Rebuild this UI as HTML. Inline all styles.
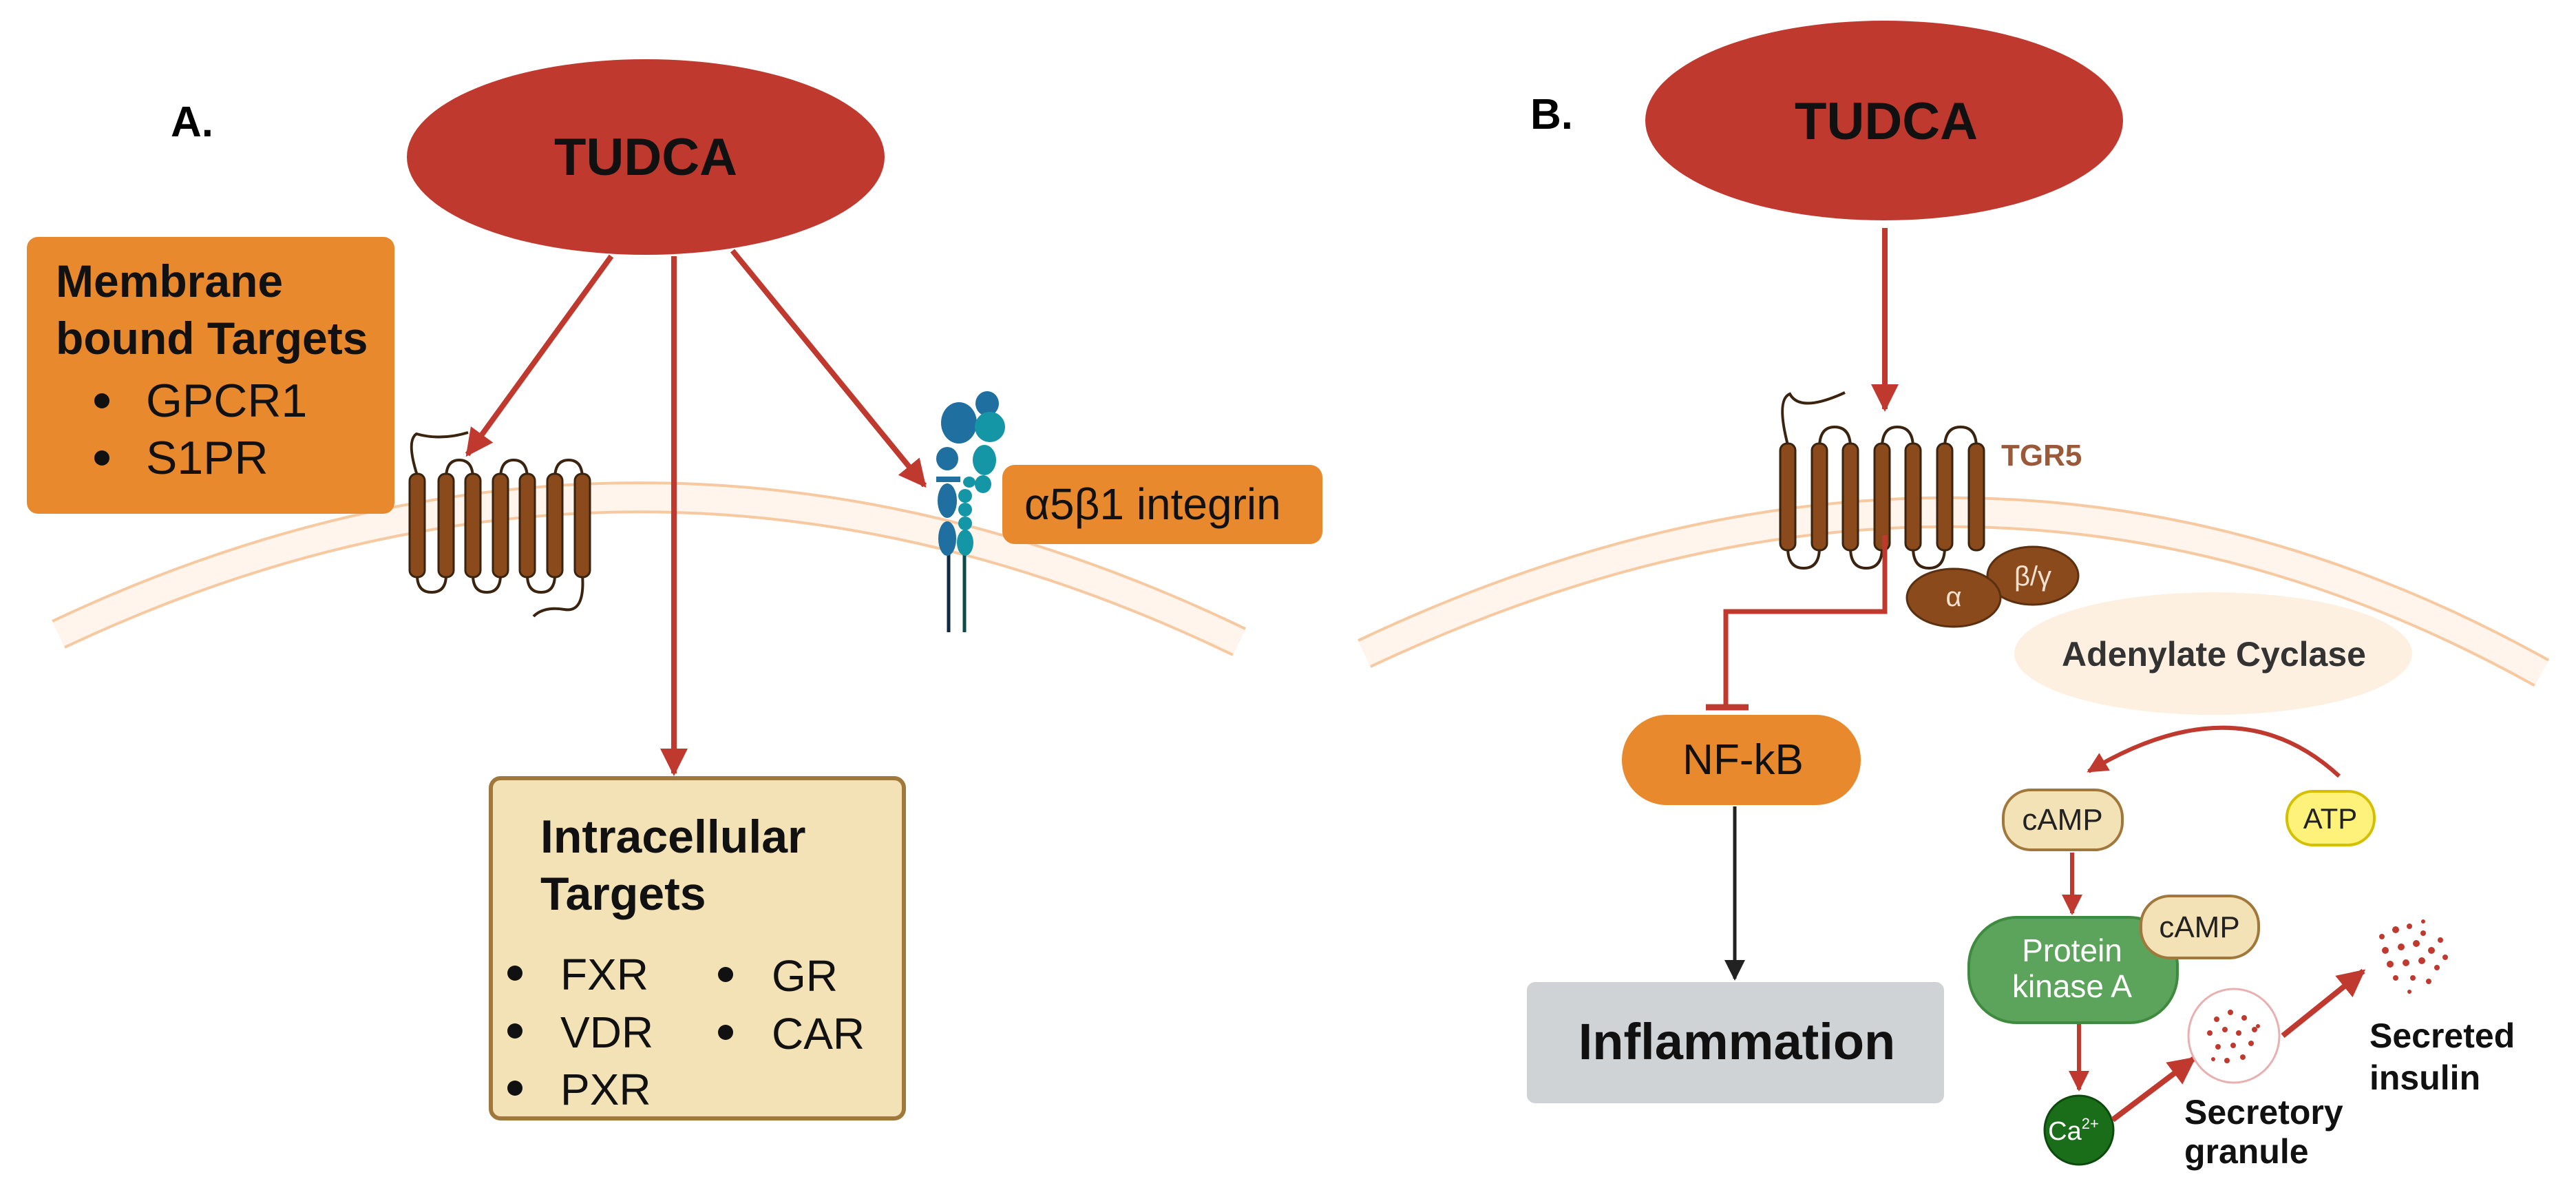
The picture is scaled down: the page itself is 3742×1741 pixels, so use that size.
<!DOCTYPE html>
<html><head><meta charset="utf-8"><style>
html,body{margin:0;padding:0;background:#fff;}
svg{display:block;}
text{font-family:"Liberation Sans",sans-serif;}
</style></head><body>
<svg width="3742" height="1741" viewBox="0 0 3742 1741" xmlns="http://www.w3.org/2000/svg">
<defs>
<marker id="ar" viewBox="0 0 10 10" refX="9" refY="5" markerWidth="5" markerHeight="5" orient="auto" markerUnits="strokeWidth"><path d="M0,0 L10,5 L0,10 z" fill="#c0392f"/></marker>
<marker id="ab" viewBox="0 0 10 10" refX="9" refY="5" markerWidth="6" markerHeight="6" orient="auto" markerUnits="strokeWidth"><path d="M0,0 L10,5 L0,10 z" fill="#222"/></marker>
</defs>

<!-- membranes -->
<path d="M85,921 Q940,518 1800,932" fill="none" stroke="#f6c9a0" stroke-width="46"/>
<path d="M85,921 Q940,518 1800,932" fill="none" stroke="#fff5ec" stroke-width="38"/>
<path d="M1982,949 Q2880,525 3692,977" fill="none" stroke="#f6c9a0" stroke-width="46"/>
<path d="M1982,949 Q2880,525 3692,977" fill="none" stroke="#fff5ec" stroke-width="38"/>

<!-- Panel A -->
<text x="248" y="198" font-size="62" font-weight="bold">A.</text>
<ellipse cx="938" cy="228" rx="347" ry="142" fill="#c0392f"/>
<text x="938" y="254" font-size="76" font-weight="bold" text-anchor="middle" fill="#111">TUDCA</text>

<rect x="39" y="344" width="534" height="402" rx="16" fill="#e8892e"/>
<text x="81" y="431" font-size="66" font-weight="bold" fill="#111">Membrane</text>
<text x="81" y="514" font-size="66" font-weight="bold" fill="#111">bound Targets</text>
<circle cx="148" cy="582" r="11" fill="#111"/><text x="212" y="605" font-size="68" fill="#111">GPCR1</text>
<circle cx="148" cy="665" r="11" fill="#111"/><text x="212" y="688" font-size="68" fill="#111">S1PR</text>

<!-- receptor A -->
<g stroke="#3a2410" stroke-width="4" fill="none">
<path d="M606,690 Q590,640 605,630 Q640,640 680,628"/>
<path d="M648,695 Q648,668 667,668 Q687,668 687,695"/>
<path d="M727,695 Q727,668 746,668 Q766,668 766,695"/>
<path d="M806,695 Q806,668 826,668 Q846,668 846,695"/>
<path d="M606,835 Q606,860 627,860 Q648,860 648,835"/>
<path d="M687,835 Q687,860 707,860 Q727,860 727,835"/>
<path d="M766,835 Q766,860 786,860 Q806,860 806,835"/>
<path d="M846,835 Q850,890 820,885 Q790,880 775,895"/>
</g>
<g fill="#8b4a1c" stroke="#3a2410" stroke-width="3">
<rect x="595" y="688" width="22" height="150" rx="10"/>
<rect x="637" y="688" width="22" height="150" rx="10"/>
<rect x="676" y="688" width="22" height="150" rx="10"/>
<rect x="716" y="688" width="22" height="150" rx="10"/>
<rect x="755" y="688" width="22" height="150" rx="10"/>
<rect x="795" y="688" width="22" height="150" rx="10"/>
<rect x="835" y="688" width="22" height="150" rx="10"/>
</g>

<!-- integrin -->
<g>
<line x1="1378" y1="800" x2="1378" y2="918" stroke="#0d2a44" stroke-width="5"/>
<line x1="1401" y1="800" x2="1401" y2="918" stroke="#0d4a4a" stroke-width="5"/>
<g fill="#1f6fa0">
<ellipse cx="1434" cy="586" rx="17" ry="18"/>
<ellipse cx="1393" cy="614" rx="26" ry="30"/>
<ellipse cx="1376" cy="666" rx="16" ry="17"/>
<rect x="1360" y="692" width="35" height="8"/>
<ellipse cx="1376" cy="727" rx="14" ry="25"/>
<ellipse cx="1376" cy="782" rx="13" ry="25"/>
</g>
<g fill="#1496a6">
<ellipse cx="1438" cy="620" rx="22" ry="22"/>
<ellipse cx="1430" cy="668" rx="17" ry="22"/>
<ellipse cx="1428" cy="703" rx="12" ry="13"/>
<ellipse cx="1408" cy="700" rx="9" ry="8"/>
<ellipse cx="1402" cy="720" rx="10" ry="10"/>
<ellipse cx="1402" cy="740" rx="10" ry="10"/>
<ellipse cx="1402" cy="760" rx="10" ry="10"/>
<ellipse cx="1402" cy="788" rx="12" ry="19"/>
</g>
</g>
<rect x="1456" y="675" width="465" height="115" rx="18" fill="#e8892e"/>
<text x="1488" y="754" font-size="64" fill="#111">α5β1 integrin</text>

<!-- arrows A -->
<g stroke="#c0392f" stroke-width="8" fill="none">
<line x1="888" y1="372" x2="679" y2="660" marker-end="url(#ar)"/>
<line x1="979" y1="372" x2="979" y2="1123" marker-end="url(#ar)"/>
<line x1="1064" y1="364" x2="1343" y2="705" marker-end="url(#ar)"/>
</g>

<rect x="713" y="1130" width="600" height="494" rx="14" fill="#f3e2b6" stroke="#a0783c" stroke-width="6"/>
<text x="785" y="1238" font-size="68" font-weight="bold" fill="#111">Intracellular</text>
<text x="785" y="1321" font-size="68" font-weight="bold" fill="#111">Targets</text>
<g font-size="64" fill="#111">
<circle cx="748" cy="1413" r="11"/><text x="814" y="1437">FXR</text>
<circle cx="748" cy="1497" r="11"/><text x="814" y="1521">VDR</text>
<circle cx="748" cy="1580" r="11"/><text x="814" y="1604">PXR</text>
<circle cx="1054" cy="1415" r="11"/><text x="1121" y="1439">GR</text>
<circle cx="1054" cy="1499" r="11"/><text x="1121" y="1523">CAR</text>
</g>

<!-- Panel B -->
<text x="2223" y="187" font-size="62" font-weight="bold">B.</text>
<ellipse cx="2737" cy="175" rx="347" ry="145" fill="#c0392f"/>
<text x="2740" y="202" font-size="76" font-weight="bold" text-anchor="middle" fill="#111">TUDCA</text>
<line x1="2738" y1="331" x2="2738" y2="594" stroke="#c0392f" stroke-width="8" marker-end="url(#ar)"/>

<!-- TGR5 receptor -->
<g stroke="#3a2410" stroke-width="4" fill="none">
<path d="M2597,646 Q2580,580 2600,572 Q2615,600 2680,570"/>
<path d="M2643,650 Q2643,620 2665,620 Q2688,620 2688,650"/>
<path d="M2734,650 Q2734,620 2756,620 Q2779,620 2779,650"/>
<path d="M2825,650 Q2825,620 2848,620 Q2871,620 2871,650"/>
<path d="M2597,795 Q2597,825 2620,825 Q2643,825 2643,795"/>
<path d="M2688,795 Q2688,825 2711,825 Q2734,825 2734,795"/>
<path d="M2779,795 Q2779,825 2802,825 Q2825,825 2825,795"/>
</g>
<g fill="#8b4a1c" stroke="#3a2410" stroke-width="3">
<rect x="2586" y="644" width="22" height="155" rx="10"/>
<rect x="2632" y="644" width="22" height="155" rx="10"/>
<rect x="2677" y="644" width="22" height="155" rx="10"/>
<rect x="2723" y="644" width="22" height="155" rx="10"/>
<rect x="2768" y="644" width="22" height="155" rx="10"/>
<rect x="2814" y="644" width="22" height="155" rx="10"/>
<rect x="2860" y="644" width="22" height="155" rx="10"/>
</g>
<text x="2907" y="676" font-size="44" font-weight="bold" fill="#9a5a3a">TGR5</text>
<ellipse cx="2953" cy="836" rx="66" ry="42" fill="#8b4a1c" stroke="#5a3010" stroke-width="3"/>
<text x="2953" y="850" font-size="40" fill="#f3e2d0" text-anchor="middle">β/γ</text>
<ellipse cx="2838" cy="868" rx="68" ry="42" fill="#8b4a1c" stroke="#5a3010" stroke-width="3"/>
<text x="2838" y="880" font-size="40" fill="#f3e2d0" text-anchor="middle">α</text>

<ellipse cx="3215" cy="949" rx="289" ry="89" fill="#fdf0e0"/>
<text x="3216" y="967" font-size="50" font-weight="bold" fill="#333" text-anchor="middle">Adenylate Cyclase</text>

<!-- inhibition -->
<path d="M2738,777 L2738,888 L2507,888 L2507,1027" fill="none" stroke="#c0392f" stroke-width="7"/>
<line x1="2478" y1="1027" x2="2540" y2="1027" stroke="#c0392f" stroke-width="9"/>
<rect x="2356" y="1038" width="347" height="131" rx="65" fill="#e8892e"/>
<text x="2532" y="1124" font-size="62" fill="#111" text-anchor="middle">NF-kB</text>
<line x1="2520" y1="1171" x2="2520" y2="1421" stroke="#222" stroke-width="5" marker-end="url(#ab)"/>
<rect x="2218" y="1426" width="606" height="176" rx="12" fill="#d0d3d6"/>
<text x="2523" y="1538" font-size="74" font-weight="bold" fill="#111" text-anchor="middle">Inflammation</text>

<!-- cAMP pathway -->
<path d="M3398,1127 Q3250,990 3034,1120" fill="none" stroke="#c0392f" stroke-width="6" marker-end="url(#ar)"/>
<rect x="2910" y="1147" width="173" height="87" rx="40" fill="#f3e2b6" stroke="#a0783c" stroke-width="4"/>
<text x="2996" y="1205" font-size="44" fill="#222" text-anchor="middle">cAMP</text>
<rect x="3322" y="1149" width="127" height="78" rx="38" fill="#fff27a" stroke="#d4c000" stroke-width="4"/>
<text x="3385" y="1203" font-size="42" fill="#222" text-anchor="middle">ATP</text>
<line x1="3010" y1="1238" x2="3010" y2="1326" stroke="#c0392f" stroke-width="6" marker-end="url(#ar)"/>
<rect x="2860" y="1332" width="303" height="153" rx="70" fill="#5ca35c" stroke="#3e8a3e" stroke-width="4"/>
<text x="3010" y="1396" font-size="46" fill="#fff" text-anchor="middle">Protein</text>
<text x="3010" y="1448" font-size="46" fill="#fff" text-anchor="middle">kinase A</text>
<rect x="3110" y="1301" width="171" height="90" rx="42" fill="#f3e2b6" stroke="#a0783c" stroke-width="4"/>
<text x="3195" y="1361" font-size="44" fill="#222" text-anchor="middle">cAMP</text>
<line x1="3020" y1="1487" x2="3020" y2="1582" stroke="#c0392f" stroke-width="6" marker-end="url(#ar)"/>
<circle cx="3020" cy="1641" r="50" fill="#1a6e1a" stroke="#0d4a0d" stroke-width="3"/>
<text x="3012" y="1655" font-size="38" fill="#fff" text-anchor="middle">Ca<tspan font-size="22" dy="-16">2+</tspan></text>
<line x1="3069" y1="1626" x2="3187" y2="1537" stroke="#c0392f" stroke-width="8" marker-end="url(#ar)"/>
<ellipse cx="3245" cy="1504" rx="66" ry="68" fill="#fff" stroke="#e8b0b0" stroke-width="3"/>
<g fill="#c0392f">
<circle cx="3220" cy="1480" r="4"/><circle cx="3240" cy="1470" r="4"/><circle cx="3260" cy="1478" r="4"/><circle cx="3275" cy="1495" r="4"/>
<circle cx="3210" cy="1500" r="4"/><circle cx="3232" cy="1495" r="4"/><circle cx="3252" cy="1500" r="4"/><circle cx="3270" cy="1515" r="4"/>
<circle cx="3222" cy="1520" r="4"/><circle cx="3244" cy="1518" r="4"/><circle cx="3258" cy="1535" r="4"/><circle cx="3235" cy="1540" r="4"/>
<circle cx="3215" cy="1538" r="3"/><circle cx="3280" cy="1490" r="3"/>
</g>
<line x1="3316" y1="1504" x2="3433" y2="1410" stroke="#c0392f" stroke-width="8" marker-end="url(#ar)"/>
<g fill="#c0392f">
<circle cx="3460" cy="1360" r="4"/><circle cx="3480" cy="1350" r="5"/><circle cx="3500" cy="1345" r="4"/><circle cx="3520" cy="1355" r="4"/><circle cx="3545" cy="1365" r="4"/>
<circle cx="3465" cy="1380" r="5"/><circle cx="3488" cy="1375" r="5"/><circle cx="3510" cy="1370" r="5"/><circle cx="3532" cy="1380" r="5"/><circle cx="3552" cy="1390" r="4"/>
<circle cx="3472" cy="1400" r="5"/><circle cx="3495" cy="1398" r="5"/><circle cx="3518" cy="1395" r="5"/><circle cx="3540" cy="1405" r="4"/>
<circle cx="3480" cy="1420" r="4"/><circle cx="3505" cy="1420" r="4"/><circle cx="3528" cy="1425" r="4"/><circle cx="3500" cy="1440" r="3"/><circle cx="3520" cy="1338" r="3"/>
</g>
<text x="3442" y="1521" font-size="50" font-weight="bold" fill="#111">Secreted</text>
<text x="3442" y="1582" font-size="50" font-weight="bold" fill="#111">insulin</text>
<text x="3173" y="1632" font-size="50" font-weight="bold" fill="#111">Secretory</text>
<text x="3173" y="1689" font-size="50" font-weight="bold" fill="#111">granule</text>
</svg>
</body></html>
